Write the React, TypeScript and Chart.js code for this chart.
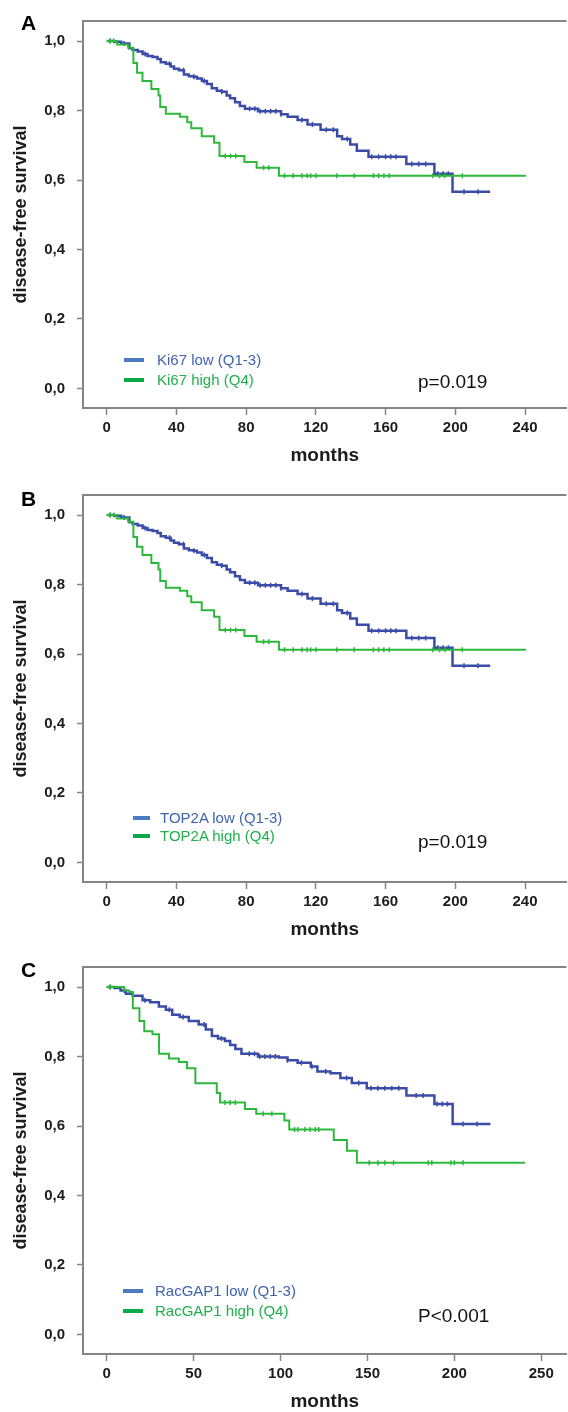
import React, { useEffect, useRef } from "react";
import { Chart, registerables } from "chart.js";

Chart.register(...registerables);

// ---------- DATA ----------
// Panel A : Ki67 (months, disease-free survival)
const kiLowT = [0, 4.5, 8.3, 13, 14.9, 17.8, 20.6, 23.4, 26.3, 29.1, 31, 33.9, 36.7, 38.6, 41.4, 44.3, 47.1, 49.9, 51.8, 54.6, 57.5, 60.3, 63.2, 66, 68.8, 70.8, 73.6, 76.4, 79.3, 86.8, 100, 103.8, 109.5, 115.2, 122.7, 132.2, 135, 139.7, 143.5, 150.2, 171.9, 188, 198.4, 220];
const kiLowS = [1, 0.998, 0.993, 0.979, 0.974, 0.97, 0.963, 0.957, 0.954, 0.948, 0.939, 0.935, 0.927, 0.92, 0.916, 0.904, 0.899, 0.897, 0.892, 0.885, 0.876, 0.864, 0.857, 0.854, 0.843, 0.835, 0.824, 0.813, 0.805, 0.798, 0.789, 0.782, 0.773, 0.76, 0.745, 0.726, 0.718, 0.702, 0.684, 0.667, 0.646, 0.618, 0.566, 0.566];
const kiLowCens = [2, 10, 22, 36, 44, 50, 56, 66, 82, 85, 88, 91, 94, 97, 100, 112, 118, 126, 130, 138, 152, 156, 160, 163, 166, 175, 179, 183, 190, 193, 196, 205, 213];
const kiHighT = [0, 6, 12.3, 15.3, 17.4, 20.5, 25.6, 29.7, 30.7, 33.9, 42, 46.2, 48.5, 54.5, 61.6, 64.7, 79, 86, 98.8, 240.5];
const kiHighS = [1, 0.99, 0.981, 0.937, 0.909, 0.885, 0.862, 0.843, 0.81, 0.791, 0.782, 0.766, 0.749, 0.726, 0.707, 0.669, 0.652, 0.635, 0.612, 0.612];
const kiHighCens = [2, 4, 68, 71, 74, 90, 93, 102, 107, 112, 115, 117, 120, 132, 142, 153, 156, 159, 162, 187, 191, 194, 204];

// Panel B : TOP2A (curves read identical to panel A)
const topLowT = kiLowT;
const topLowS = kiLowS;
const topLowCens = kiLowCens;
const topHighT = kiHighT;
const topHighS = kiHighS;
const topHighCens = kiHighCens;

// Panel C : RacGAP1
const racLowT = [0, 4.5, 8, 11, 15, 20.6, 25, 30, 34, 37.7, 42, 47.2, 52.9, 57, 60.5, 64, 68, 71, 74, 77.5, 87, 99, 104, 109.8, 117.4, 121.2, 128.7, 134.4, 141, 149.6, 172.4, 188.5, 199, 220.7];
const racLowS = [1, 0.997, 0.99, 0.981, 0.975, 0.962, 0.956, 0.944, 0.935, 0.92, 0.914, 0.902, 0.892, 0.878, 0.859, 0.852, 0.845, 0.833, 0.822, 0.808, 0.8, 0.797, 0.789, 0.782, 0.771, 0.757, 0.752, 0.738, 0.724, 0.709, 0.688, 0.663, 0.606, 0.606];
const racLowCens = [2, 10, 22, 36, 44, 56, 66, 82, 85, 88, 91, 94, 97, 104, 112, 118, 126, 138, 145, 152, 156, 160, 164, 168, 178, 182, 190, 193, 196, 205, 213];
const racHighT = [0, 10, 13, 15, 18.8, 21.6, 26.3, 30.1, 35.8, 41.5, 46.2, 51, 63.3, 65.2, 79.5, 86, 102.2, 105, 130.6, 138.2, 143.9, 240.6];
const racHighS = [1, 0.99, 0.986, 0.939, 0.902, 0.873, 0.864, 0.808, 0.794, 0.784, 0.766, 0.723, 0.695, 0.668, 0.649, 0.635, 0.616, 0.59, 0.56, 0.529, 0.494, 0.494];
const racHighCens = [2, 68, 71, 74, 90, 95, 108, 110, 114, 117, 120, 122, 151, 156, 160, 165, 185, 187, 198, 200, 205];

const xTicksAB = [0, 40, 80, 120, 160, 200, 240];
const xTicksC = [0, 50, 100, 150, 200, 250];
const yTicks = [0, 0.2, 0.4, 0.6, 0.8, 1.0];

// ---------- STYLE ----------
const FONT = "'Liberation Sans', Arial, Helvetica, sans-serif";
const BLUE = "#3a4ca6";
const GREEN = "#2db83c";
const BLUE_TXT = "#3f63ad";
const GREEN_TXT = "#1fb04c";
const BLUE_SW = "#4b7bc3";
const GREEN_SW = "#0aa94a";
const FRAME = "#858585";
const TXT = "#1c1c1c";

const CW = 572;
const CH = 474;

function stepAt(T: number[], S: number[], t: number) {
  let v = S[0];
  for (let i = 0; i < T.length; i++) if (T[i] <= t) v = S[i];
  return v;
}

const topBorder = {
  id: "topBorder",
  afterDraw(chart: any) {
    const { ctx, chartArea } = chart;
    ctx.save();
    ctx.strokeStyle = FRAME;
    ctx.lineWidth = 2;
    ctx.beginPath();
    ctx.moveTo(chartArea.left - 1, chartArea.top);
    ctx.lineTo(chartArea.right, chartArea.top);
    ctx.stroke();
    ctx.restore();
  },
};

type PanelCfg = {
  top: number;
  letter: string;
  letterTop: number;
  lowT: number[];
  lowS: number[];
  lowC: number[];
  highT: number[];
  highS: number[];
  highC: number[];
  xTicks: number[];
  xMin: number;
  xMax: number;
  lowLabel: string;
  highLabel: string;
  legendY: [number, number];
  swX: [number, number];
  textX: number;
  pText: string;
  pX: number;
  pY: number;
};

function Panel({ cfg }: { cfg: PanelCfg }) {
  const ref = useRef<HTMLCanvasElement>(null);
  useEffect(() => {
    const curve = (T: number[], S: number[]) => T.map((t, i) => ({ x: t, y: S[i] }));
    const cens = (T: number[], S: number[], C: number[]) => C.map((t) => ({ x: t, y: stepAt(T, S, t) }));
    const chart = new Chart(ref.current as HTMLCanvasElement, {
      type: "line",
      data: {
        datasets: [
          {
            data: curve(cfg.highT, cfg.highS),
            borderColor: GREEN,
            borderWidth: 2,
            stepped: "before",
            pointRadius: 0,
            fill: false,
          },
          {
            data: cens(cfg.highT, cfg.highS, cfg.highC),
            showLine: false,
            pointStyle: "line",
            rotation: 90,
            pointRadius: 2.5,
            borderColor: GREEN,
            borderWidth: 1.5,
          },
          {
            data: curve(cfg.lowT, cfg.lowS),
            borderColor: BLUE,
            borderWidth: 2.5,
            stepped: "before",
            pointRadius: 0,
            fill: false,
          },
          {
            data: cens(cfg.lowT, cfg.lowS, cfg.lowC),
            showLine: false,
            pointStyle: "line",
            rotation: 90,
            pointRadius: 2.5,
            borderColor: BLUE,
            borderWidth: 1.5,
          },
        ] as any,
      },
      options: {
        responsive: false,
        animation: false,
        devicePixelRatio: 1,
        layout: { padding: { top: 12, right: 0, bottom: 0, left: 0 } },
        plugins: { legend: { display: false }, tooltip: { enabled: false } },
        scales: {
          x: {
            type: "linear",
            min: cfg.xMin,
            max: cfg.xMax,
            afterBuildTicks: (s: any) => {
              s.ticks = cfg.xTicks.map((v) => ({ value: v }));
            },
            afterFit: (s: any) => {
              s.height = CH - 408;
            },
            border: { display: true, color: FRAME, width: 2 },
            grid: { display: true, drawOnChartArea: false, drawTicks: true, tickLength: 7, tickColor: FRAME, tickWidth: 1.5 },
            ticks: {
              autoSkip: false,
              maxRotation: 0,
              padding: 4,
              color: TXT,
              font: { family: FONT, size: 15, weight: "bold" },
              callback: (v: any) => String(v),
            },
            title: {
              display: true,
              text: "months",
              color: TXT,
              font: { family: FONT, size: 19, weight: "bold" },
              padding: { top: 0, bottom: 7 },
            },
          },
          y: {
            type: "linear",
            min: -0.0563,
            max: 1.0577,
            afterBuildTicks: (s: any) => {
              s.ticks = yTicks.map((v) => ({ value: v }));
            },
            afterFit: (s: any) => {
              s.width = 83;
            },
            border: { display: true, color: FRAME, width: 2 },
            grid: { display: true, drawOnChartArea: false, drawTicks: true, tickLength: 6, tickColor: FRAME, tickWidth: 1.5 },
            ticks: {
              padding: 12,
              color: TXT,
              font: { family: FONT, size: 15, weight: "bold" },
              callback: (v: any) => Number(v).toFixed(1).replace(".", ","),
            },
            title: {
              display: true,
              text: "disease-free survival",
              color: TXT,
              font: { family: FONT, size: 18, weight: "bold" },
              padding: { top: 10, bottom: 0 },
            },
          },
        },
      } as any,
      plugins: [topBorder],
    });
    return () => chart.destroy();
  }, []);

  const rowStyle = (y: number, color: string): React.CSSProperties => ({
    position: "absolute",
    left: cfg.textX,
    top: y - 8,
    fontFamily: FONT,
    fontSize: 15,
    lineHeight: "16px",
    color,
    whiteSpace: "nowrap",
  });
  const swStyle = (y: number, color: string): React.CSSProperties => ({
    position: "absolute",
    left: cfg.swX[0],
    top: y - 2,
    width: cfg.swX[1] - cfg.swX[0],
    height: 4,
    background: color,
  });

  return (
    <div style={{ position: "absolute", left: 0, top: cfg.top, width: CW, height: CH }}>
      <canvas ref={ref} width={CW} height={CH} style={{ display: "block", width: CW, height: CH }} />
      <div
        style={{
          position: "absolute",
          left: 21,
          top: cfg.letterTop,
          fontFamily: FONT,
          fontWeight: "bold",
          fontSize: 21,
          lineHeight: "21px",
          color: "#000",
        }}
      >
        {cfg.letter}
      </div>
      <div style={swStyle(cfg.legendY[0], BLUE_SW)} />
      <div style={swStyle(cfg.legendY[1], GREEN_SW)} />
      <div style={rowStyle(cfg.legendY[0], BLUE_TXT)}>{cfg.lowLabel}</div>
      <div style={rowStyle(cfg.legendY[1], GREEN_TXT)}>{cfg.highLabel}</div>
      <div
        style={{
          position: "absolute",
          left: cfg.pX,
          top: cfg.pY - 9,
          fontFamily: FONT,
          fontSize: 19,
          lineHeight: "18px",
          color: "#111",
          whiteSpace: "nowrap",
        }}
      >
        {cfg.pText}
      </div>
    </div>
  );
}

const panels: PanelCfg[] = [
  {
    top: 0,
    letter: "A",
    letterTop: 12,
    lowT: kiLowT,
    lowS: kiLowS,
    lowC: kiLowCens,
    highT: kiHighT,
    highS: kiHighS,
    highC: kiHighCens,
    xTicks: xTicksAB,
    xMin: -13.62,
    xMax: 263.8,
    lowLabel: "Ki67 low (Q1-3)",
    highLabel: "Ki67 high (Q4)",
    legendY: [360, 380],
    swX: [124, 144],
    textX: 157,
    pText: "p=0.019",
    pX: 418,
    pY: 382,
  },
  {
    top: 474,
    letter: "B",
    letterTop: 14,
    lowT: topLowT,
    lowS: topLowS,
    lowC: topLowCens,
    highT: topHighT,
    highS: topHighS,
    highC: topHighCens,
    xTicks: xTicksAB,
    xMin: -13.62,
    xMax: 263.8,
    lowLabel: "TOP2A low (Q1-3)",
    highLabel: "TOP2A high (Q4)",
    legendY: [344, 362],
    swX: [133, 150],
    textX: 160,
    pText: "p=0.019",
    pX: 418,
    pY: 368,
  },
  {
    top: 946,
    letter: "C",
    letterTop: 13,
    lowT: racLowT,
    lowS: racLowS,
    lowC: racLowCens,
    highT: racHighT,
    highS: racHighS,
    highC: racHighCens,
    xTicks: xTicksC,
    xMin: -13.65,
    xMax: 264.5,
    lowLabel: "RacGAP1 low (Q1-3)",
    highLabel: "RacGAP1 high (Q4)",
    legendY: [345, 365],
    swX: [123, 143],
    textX: 155,
    pText: "P<0.001",
    pX: 418,
    pY: 370,
  },
];

export default function App() {
  return (
    <div
      style={{
        position: "absolute",
        left: 0,
        top: 0,
        width: 568,
        height: 1412,
        overflow: "hidden",
        background: "#fff",
      }}
    >
      {panels.map((p) => (
        <Panel key={p.letter} cfg={p} />
      ))}
    </div>
  );
}
